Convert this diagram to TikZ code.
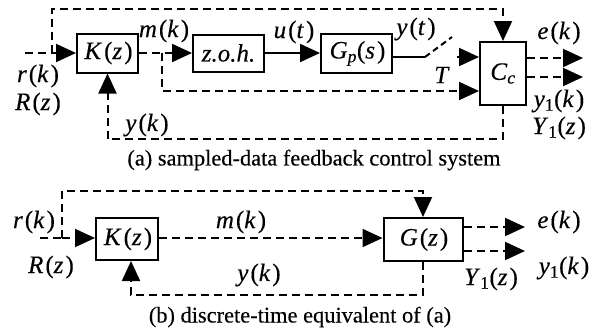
\documentclass[tikz,border=0pt]{standalone}
\usepackage{amsmath}
\usepackage{fontspec}
\setmainfont{Liberation Serif}[FakeBold=0.25]
\usetikzlibrary{arrows.meta}
% italic variable (slightly spaced, equation style) and subscript helpers
\newcommand\vv[1]{\textit{#1}\kern2pt}
\newcommand\sbs[1]{$_{\text{#1}}$}
\begin{document}
\begin{tikzpicture}[x=1pt,y=-1pt,
  every node/.style={font=\fontsize{25}{28}\selectfont, inner sep=0pt},
  captext/.style={font=\fontsize{22.4}{26}\selectfont},
  blk/.style={draw, line width=2pt, inner sep=0pt},
  ln/.style={line width=2pt},
  dsh/.style={ln, dash pattern=on 8pt off 5pt},
  arr/.style={-{Triangle[length=20pt,width=18pt]}},
]
\useasboundingbox (0,0) rectangle (603,335);

% ---------- (a) sampled-data feedback control system ----------
\node[blk, minimum width=61pt, minimum height=39pt] (Ka) at (107.5,53) {\vv{K}(\vv{z})\kern-2pt};
\node[blk, minimum width=71pt, minimum height=37pt] (zoh) at (228.5,53) {\textit{z.o.h.}};
\node[blk, minimum width=71pt, minimum height=39pt] (Gp) at (356.5,53.5) {\textit{G}$_{\textit{p}}$(\vv{s})\kern-2pt};
\node[blk, minimum width=46pt, minimum height=63pt] (Cc) at (503,73.5) {\textit{C}$_{\textit{c}}$};

\coordinate (ra) at (25,53);
\coordinate (ja) at (52,53);
\coordinate (ta) at (52,9);
\coordinate (mb) at (162,53);
\coordinate (bl) at (162,91);
\coordinate (s1) at (425,57);
\coordinate (s2) at (452,37);
\coordinate (s3) at (457,57);
\coordinate (ea) at (583,58);
\coordinate (ya) at (583,77);
\coordinate (fba) at (107.5,139);

\draw[dsh] (ra) -- (ja);
\draw[dsh,arr] (ja) -- (Ka.west);
\draw[dsh,arr] (ja) -- (ta) -| (Cc.north);
\draw[dsh,arr] (Ka.east) -- (zoh.west);
\draw[dsh,arr] (mb) -- (bl) -- (bl -| Cc.west);
\draw[ln,arr] (zoh.east) -- (zoh.east -| Gp.west);
\draw[ln] (Gp.east |- s1) -- (s1);
\draw[ln, dash pattern=on 6pt off 4pt] (s1) -- (s2);
\draw[ln,arr] (s3) -- (s3 -| Cc.west);
\draw[dsh,arr] (Cc.east |- ea) -- (ea);
\draw[dsh,arr] (Cc.east |- ya) -- (ya);
\draw[dsh,arr] (Cc.south) |- (fba) -- (Ka.south);

\node (lra) at (37,76) {\vv{r}(\vv{k})\kern-2pt};
\node (lRa) at (37,104) {\vv{R}(\vv{z})\kern-2pt};
\node (lma) at (163,31) {\vv{m}(\vv{k})\kern-2pt};
\node (lua) at (293,32) {\vv{u}(\vv{t})\kern-2pt};
\node (lyt) at (415,29) {\vv{y}(\vv{t})\kern-2pt};
\node (lT) at (442,75) {\textit{T}};
\node (lea) at (558,33) {\vv{e}(\vv{k})\kern-2pt};
\node (lya) at (558,101) {\textit{y}\sbs{1}(\vv{k})\kern-2pt};
\node (lYa) at (558,128) {\textit{Y}\sbs{1}(\vv{z})\kern-2pt};
\node (lyk) at (146,125) {\vv{y}(\vv{k})\kern-2pt};
\node[captext] (capa) at (314,160) {(a) sampled-data feedback control system};

% ---------- (b) discrete-time equivalent ----------
\node[blk, minimum width=62pt, minimum height=42pt] (Kb) at (127,239) {\vv{K}(\vv{z})\kern-2pt};
\node[blk, minimum width=79pt, minimum height=43pt] (Gb) at (423,239.5) {\vv{G}(\vv{z})\kern-2pt};

\coordinate (rb) at (40,238);
\coordinate (jb) at (62,238);
\coordinate (tb) at (62,191);
\coordinate (eb) at (525,227);
\coordinate (yb) at (525,251);
\coordinate (fbb) at (131,295);

\draw[dsh] (rb) -- (jb);
\draw[dsh,arr] (jb) -- (jb -| Kb.west);
\draw[dsh,arr] (jb) -- (tb) -| (Gb.north);
\draw[dsh,arr] (Kb.east |- jb) -- (jb -| Gb.west);
\draw[dsh,arr] (Gb.east |- eb) -- (eb);
\draw[dsh,arr] (Gb.east |- yb) -- (yb);
\draw[dsh,arr] (Gb.south) |- (fbb) -- (fbb |- Kb.south);

\node (lrb) at (33,222) {\vv{r}(\vv{k})\kern-2pt};
\node (lRb) at (50,267) {\vv{R}(\vv{z})\kern-2pt};
\node (lmb) at (240,222) {\vv{m}(\vv{k})\kern-2pt};
\node (lyb) at (258,275) {\vv{y}(\vv{k})\kern-2pt};
\node (leb) at (558,222) {\vv{e}(\vv{k})\kern-2pt};
\node (lyb1) at (563,268) {\textit{y}\sbs{1}(\vv{k})\kern-2pt};
\node (lYb) at (490,279) {\textit{Y}\sbs{1}(\vv{z})\kern-2pt};
\node[captext] (capb) at (300,317) {(b) discrete-time equivalent of (a)};
\end{tikzpicture}
\end{document}
